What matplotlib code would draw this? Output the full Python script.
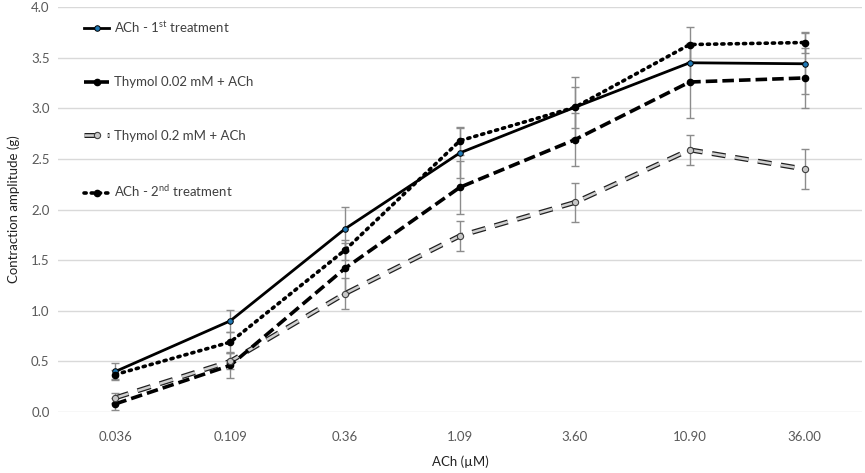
import matplotlib
matplotlib.use("Agg")
import matplotlib.pyplot as plt
import matplotlib.patheffects as pe
from matplotlib.legend_handler import HandlerTuple
import numpy as np

plt.rcParams['font.family'] = ['Lato', 'DejaVu Sans']
plt.rcParams['mathtext.fontset'] = 'custom'
plt.rcParams['mathtext.rm'] = 'Lato'
plt.rcParams['mathtext.it'] = 'Lato'

categories = ["0.036", "0.109", "0.36", "1.09", "3.60", "10.90", "36.00"]
ach1 = [0.40, 0.90, 1.81, 2.56, 3.01, 3.45, 3.44]
ach1_err = [0.08, 0.11, 0.22, 0.25, 0.30, 0.20, 0.30]
thy002 = [0.08, 0.46, 1.42, 2.22, 2.69, 3.26, 3.30]
thy002_err = [0.06, 0.12, 0.25, 0.26, 0.26, 0.36, 0.30]
thy02 = [0.14, 0.50, 1.17, 1.74, 2.07, 2.59, 2.40]
thy02_err = [0.05, 0.08, 0.15, 0.15, 0.19, 0.15, 0.20]
ach2 = [0.37, 0.69, 1.60, 2.68, 3.01, 3.63, 3.65]
ach2_err = [0.04, 0.10, 0.10, 0.14, 0.20, 0.17, 0.10]

fig = plt.figure(figsize=(8.65, 4.73), dpi=100)
ax = fig.add_axes([0.067, 0.129, 0.9295, 0.856])
x = np.arange(len(categories))

ekw = dict(ecolor='#8c8c8c', elinewidth=1.0, capsize=3, capthick=1.0, zorder=2)
ax.errorbar(x, ach1, yerr=ach1_err, fmt='none', **ekw)
ax.errorbar(x, thy002, yerr=thy002_err, fmt='none', **ekw)
ax.errorbar(x, thy02, yerr=thy02_err, fmt='none', **ekw)
ax.errorbar(x, ach2, yerr=ach2_err, fmt='none', **ekw)

l1, = ax.plot(x, ach1, '-', color='black', lw=2, marker='o', ms=4,
              mfc='#1f78b4', mec='black', mew=0.7, zorder=4)
l2, = ax.plot(x, thy002, color='black', lw=2.6, linestyle=(0, (3.2, 1.4)),
              marker='o', ms=4.5, mfc='black', mec='black', zorder=4)
l3a, = ax.plot(x, thy02, color='#d0d0d0', lw=1.8, linestyle=(0, (5.5, 3.8)), zorder=3,
               path_effects=[pe.Stroke(linewidth=3.6, foreground='#202020'), pe.Normal()])
l3b, = ax.plot(x, thy02, linestyle='none', marker='o', ms=4.5, mfc='#c8c8c8',
               mec='#404040', mew=0.8, zorder=4)
l4, = ax.plot(x, ach2, color='black', lw=2.6, linestyle=(0, (0.6, 1.4)),
              dash_capstyle='round', marker='o', ms=4.5, mfc='black', mec='black',
              zorder=4)

ax.set_xlim(-0.5, len(categories) - 0.5)
ax.set_ylim(0, 4.0)
ax.set_yticks(np.arange(0, 4.01, 0.5))
ax.set_yticklabels([f"{v:.1f}" for v in np.arange(0, 4.01, 0.5)])
ax.set_xticks(x)
ax.set_xticklabels(categories)
ax.grid(axis='y', color='#d9d9d9', lw=1)
ax.set_axisbelow(True)
for s in ax.spines.values():
    s.set_visible(False)
ax.tick_params(length=0, labelsize=9.5, colors='#595959', pad=14)
ax.tick_params(axis='y', pad=6)
ax.set_ylabel('Contraction amplitude (g)', fontsize=9.5, color='#222222', labelpad=8)
ax.set_xlabel('ACh (µM)', fontsize=9.5, color='#222222', labelpad=9)

labels = ['ACh - 1$^{\\mathrm{st}}$ treatment', 'Thymol 0.02 mM + ACh',
          'Thymol 0.2 mM + ACh', 'ACh - 2$^{\\mathrm{nd}}$ treatment']
leg = ax.legend(handles=[l1, l2, (l3a, l3b), l4], labels=labels,
                loc='upper left', bbox_to_anchor=(0.018, 1.0),
                frameon=False, fontsize=9.5, labelspacing=3.15, handlelength=1.9,
                handletextpad=0.35, handler_map={tuple: HandlerTuple(ndivide=1)})
for t in leg.get_texts():
    t.set_color('#404040')

fig.savefig('out.png', dpi=100)
